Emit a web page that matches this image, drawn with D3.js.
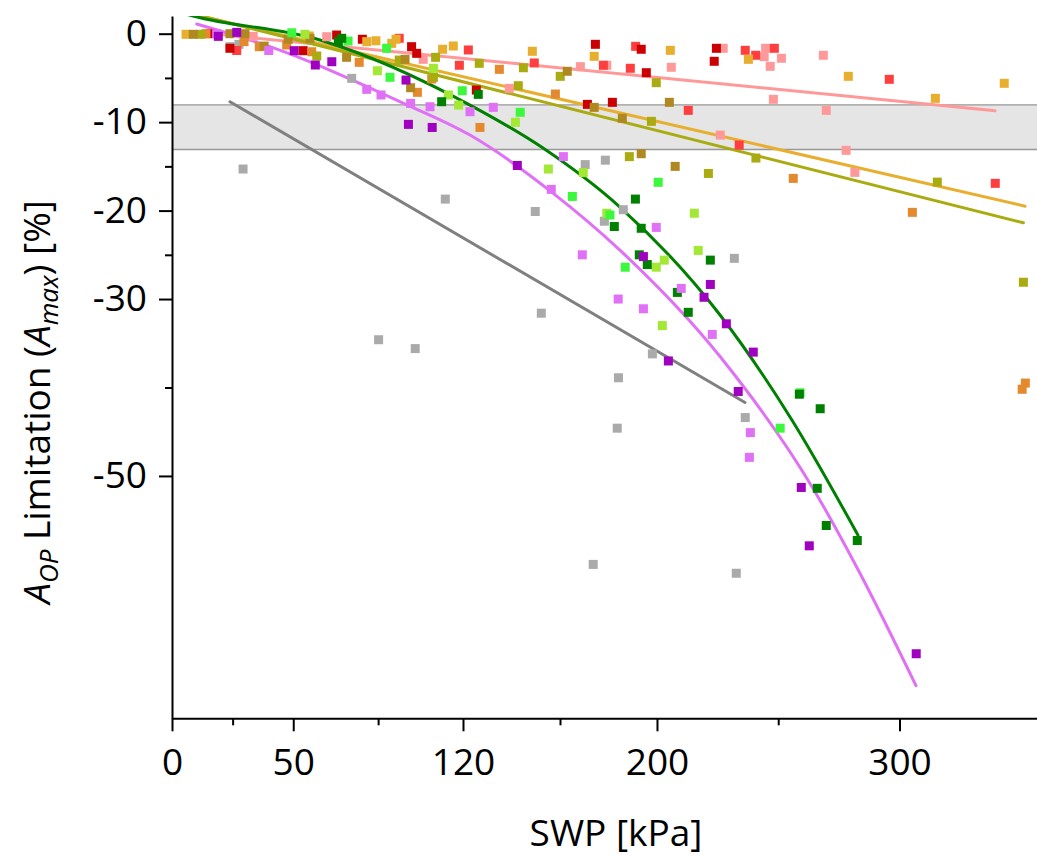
<!DOCTYPE html>
<html><head><meta charset="utf-8">
<script src="https://cdn.jsdelivr.net/npm/d3@7"></script>
<style>
body{margin:0;background:#fff;}
svg{display:block;}
text{font-family:"Open Sans",sans-serif;fill:#000;}
</style>
</head><body>
<svg id="chart" width="1037" height="859"></svg>
<script>
// ---- axis ticks ----
const xTicks = [0, 50, 120, 200, 300];
const xMinorTicks = [25, 85, 160, 250];
const yTicks = [0, -10, -20, -30, -50];
const yMinorTicks = [-5, -15, -25, -40];
const bandLimits = [-8.05, -13.1];

// ---- scatter series: [SWP kPa, limitation %] ----
const gray = [[23.9,-1.47],[27.6,-1.2],[29.3,-15.3],[74.1,-5.05],[85.2,-34.6],[100.3,-35.6],[112.7,-18.7],[149.8,-20.1],[152.3,-31.6],[170.4,-14.8],[178.7,-14.3],[178.3,-21.2],[186.1,-19.9],[184.1,-38.9],[183.6,-44.6],[173.7,-60],[198.1,-36.2],[231.9,-25.4],[236.4,-43.4],[232.7,-61]];
const pink = [[33.5,-0.3],[63.8,-0.34],[103.6,-2.9],[139.1,-6.18],[168.4,-3.73],[179.3,-3.57],[205.9,-3.8],[227.3,-1.65],[244.8,-1.65],[244.2,-2.6],[251.3,-2.78],[246.7,-3.69],[268.6,-2.44],[248,-7.42],[269.8,-8.67],[226.1,-11.46],[278,-13.19],[281.6,-15.68]];
const red = [[26.7,-1.9],[93.7,-0.52],[122.2,-1.84],[118.5,-3.57],[149.4,-3.31],[177.9,-3.57],[191.2,-1.43],[189,-3.91],[236.4,-1.88],[240.7,-2.44],[248.4,-1.65],[295.8,-5.16],[212.9,-8.67],[233.9,-12.59],[339.5,-16.92]];
const darkRed = [[15.7,0],[23.9,-1.65],[67.9,-0.15],[78.5,-0.63],[98.8,-1.47],[100.9,-2.22],[54.1,-1.92],[125.5,-6.37],[174.6,-1.2],[193.5,-1.76],[195.6,-4.41],[224.5,-1.65],[223.6,-3.12],[171.3,-7.99],[181.6,-7.76]];
const gold = [[5.8,-0.07],[56.6,-0.26],[80.3,-0.9],[84.1,-0.8],[90.6,-1.09],[92.4,-0.63],[111.6,-1.76],[116,-1.39],[148.6,-1.99],[174.1,-2.56],[205.5,-1.88],[237.7,-2.9],[278.9,-4.82],[343.2,-5.61],[314.8,-7.31]];
const orange = [[14,0],[29.7,-0.9],[36,-1.47],[47.3,-1.28],[57.6,-2.04],[77.2,-3.24],[101.2,-6.63],[107.1,-5.12],[127,-10.6],[135,-4.03],[158.1,-6.82],[256.2,-16.36],[305.3,-20.2],[351.9,-39.5],[350.6,-40.2]];
const olive = [[11.8,-0.07],[59.7,-2.52],[93.7,-2.98],[108.7,-2.67],[107.8,-4.93],[126.7,-3.35],[144.9,-3.85],[142.8,-5.88],[160.1,-4.82],[199.7,-5.54],[197.7,-9.91],[188.6,-13.9],[221.2,-15.8],[240.8,-14.06],[315.6,-16.78],[351.1,-28.1]];
const brown = [[8.8,-0.07],[23.9,0],[30.1,0],[38,-1.4],[47.9,-0.63],[56.9,-0.52],[72,-2.67],[96.1,-2.9],[98.4,-6.11],[163,-4.25],[174.1,-8.33],[205.1,-7.76],[185.7,-9.57],[193.5,-13.57],[207.5,-15.0]];
const yellowGreen = [[54.8,-0.07],[84.7,-4.19],[107.8,-3.91],[114,-6.93],[118.2,-8.07],[141.6,-10.02],[155.2,-15.3],[169.6,-15.7],[179.3,-20.3],[215.4,-20.3],[199.7,-26.4],[203,-25.6],[202.2,-33.0],[217,-24.5]];
const brightGreen = [[49.4,0.1],[72.6,-0.83],[88.5,-1.65],[89.9,-4.93],[119.7,-6.45],[143.6,-8.89],[165.1,-18.4],[180.6,-20.5],[186.9,-26.4],[200.5,-16.8],[250.8,-44.6],[259,-40.6]];
const darkGreen = [[70,-0.52],[68.6,-0.9],[111.2,-7.69],[126.3,-6.86],[191.1,-18.7],[182.4,-21.8],[193.5,-22],[192.7,-25],[196,-26.1],[208.4,-29.25],[212.9,-31.5],[222,-25.6],[258.7,-40.76],[267.3,-42.4],[266.1,-51.4],[269.8,-55.6],[282.6,-57.3]];
const violet = [[18.4,0],[39.9,-1.9],[80.3,-6.29],[86.2,-6.93],[98.4,-7.88],[106.4,-8.26],[122.9,-8.82],[132.5,-8.33],[161.4,-13.9],[156.4,-17.6],[199.7,-21.9],[169.2,-25],[210,-28.8],[184,-30],[194.4,-31.1],[222.8,-34],[238.5,-45.1],[238.1,-47.9]];
const purple = [[19.1,-0.3],[26.7,0.15],[50.4,-1.92],[59.1,-3.54],[65.9,-3.17],[96.5,-5.24],[97.5,-10.25],[107.3,-10.6],[142.4,-14.9],[194.4,-25.2],[222,-28.35],[219.4,-29.8],[228.6,-32.8],[239.7,-36],[204.7,-37],[233.5,-40.45],[259.5,-51.3],[262.8,-57.9],[306.9,-70.1]];

// ---- fitted lines / curves ----
const fitPink = [[14.3,0.05],[339.4,-8.71]];
const fitGold = [[3,2.52],[351.8,-19.5]];
const fitOlive = [[3,2.64],[351.1,-21.38]];
const fitGray = [[23.9,-7.69],[236.3,-41.7]];
const fitGreen = [[6,2.2],[8.7,2.0],[61,-0.71],[122.9,-8.07],[153,-12.93],[184.7,-19.6],[226,-31.8],[255.7,-43.7],[282.9,-56.7]];
const fitViolet = [[10.2,1.1],[40.4,-1.47],[95.3,-7.84],[122.9,-11.46],[157.1,-18.02],[184.7,-24.47],[226,-36.5],[264.1,-51.3],[283.7,-61.0],[306.8,-73.7]];

// ---- styles ----
const scatterOrder = ["gray","pink","red","darkRed","gold","orange","olive","brown","yellowGreen","brightGreen","darkGreen","violet","purple"];
const scatterData = {gray, pink, red, darkRed, gold, orange, olive, brown, yellowGreen, brightGreen, darkGreen, violet, purple};
const scatterColor = {gray:"#aaaaaa", pink:"#ff9999", red:"#ff3f3f", darkRed:"#cc0000", gold:"#e8ae2e", orange:"#e5892f", olive:"#aaaa11", brown:"#b08822", yellowGreen:"#a2e834", brightGreen:"#3cf83c", darkGreen:"#008000", violet:"#e070f5", purple:"#a000c0"};
const fits = [
  {data: fitGray, color:"#808080", curve: d3.curveLinear},
  {data: fitPink, color:"#ff9999", curve: d3.curveLinear},
  {data: fitGold, color:"#e8ae2e", curve: d3.curveLinear},
  {data: fitOlive, color:"#aaaa11", curve: d3.curveLinear},
  {data: fitGreen, color:"#008000", curve: d3.curveMonotoneX},
  {data: fitViolet, color:"#e070f5", curve: d3.curveMonotoneX}
];

const svg = d3.select("#chart");
const x = d3.scaleLinear().domain([0, 357]).range([172, 1037.7]);
const y = d3.scaleLinear().domain([-77.4, 2]).range([718.3, 16]);

svg.append("defs").append("clipPath").attr("id","plotclip")
  .append("rect").attr("x", x(0)).attr("y", y(2)).attr("width", x(357)-x(0)).attr("height", y(-77.4)-y(2));

// band
svg.append("rect").attr("x", x(0)).attr("y", y(bandLimits[0]))
  .attr("width", x(357)-x(0)).attr("height", y(bandLimits[1])-y(bandLimits[0]))
  .attr("fill","#e5e5e5");
svg.append("line").attr("x1",x(0)).attr("x2",x(357)).attr("y1",y(bandLimits[0])).attr("y2",y(bandLimits[0]))
  .attr("stroke","#b0b0b0").attr("stroke-width",1.6);
svg.append("line").attr("x1",x(0)).attr("x2",x(357)).attr("y1",y(bandLimits[1])).attr("y2",y(bandLimits[1]))
  .attr("stroke","#999").attr("stroke-width",1.6);

// fitted lines
const line = d3.line().x(d => x(d[0])).y(d => y(d[1]));
const gLines = svg.append("g").attr("clip-path","url(#plotclip)");
fits.forEach(f => {
  gLines.append("path").attr("d", line.curve(f.curve)(f.data))
    .attr("fill","none").attr("stroke", f.color).attr("stroke-width", 3).attr("stroke-linecap","round");
});

// scatter
const size = 9;
scatterOrder.forEach(name => {
  svg.append("g").selectAll("rect").data(scatterData[name]).join("rect")
    .attr("x", d => x(d[0]) - size/2).attr("y", d => y(d[1]) - size/2)
    .attr("width", size).attr("height", size)
    .attr("fill", scatterColor[name]);
});

// axes
const fontSize = 37;
const fmt = d => String(d);
svg.append("g").attr("transform", `translate(0,${y(-77.4)})`)
  .call(d3.axisBottom(x).tickValues(xTicks).tickSize(13).tickSizeOuter(0).tickPadding(17).tickFormat(fmt));
svg.append("g").attr("transform", `translate(0,${y(-77.4)})`)
  .call(d3.axisBottom(x).tickValues(xMinorTicks).tickSize(7).tickSizeOuter(0).tickFormat(""))
  .select(".domain").remove();
svg.append("g").attr("transform", `translate(${x(0)},0)`)
  .call(d3.axisLeft(y).tickValues(yTicks).tickSize(13).tickSizeOuter(0).tickPadding(12).tickFormat(fmt));
svg.append("g").attr("transform", `translate(${x(0)},0)`)
  .call(d3.axisLeft(y).tickValues(yMinorTicks).tickSize(7).tickSizeOuter(0).tickFormat(""))
  .select(".domain").remove();

svg.selectAll(".domain").attr("stroke","#000").attr("stroke-width",2);
svg.selectAll(".tick line").attr("stroke","#000").attr("stroke-width",2);
svg.selectAll(".tick text").style("font-size", fontSize+"px").style("font-family","'Open Sans',sans-serif").attr("fill","#000");

// axis titles
svg.append("text").attr("x", 616).attr("y", 846).attr("text-anchor","middle")
  .style("font-size", fontSize+"px").text("SWP [kPa]");

const yTitle = svg.append("text").attr("transform","translate(50,402) rotate(-90)")
  .attr("text-anchor","middle").style("font-size", fontSize+"px");
yTitle.append("tspan").style("font-style","italic").text("A");
yTitle.append("tspan").style("font-style","italic").style("font-size","26px").attr("dy", 8).text("OP");
yTitle.append("tspan").attr("dy", -8).text(" Limitation (");
yTitle.append("tspan").style("font-style","italic").text("A");
yTitle.append("tspan").style("font-style","italic").style("font-size","26px").attr("dy", 8).text("max");
yTitle.append("tspan").attr("dy", -8).text(") [%]");
</script>
</body></html>
